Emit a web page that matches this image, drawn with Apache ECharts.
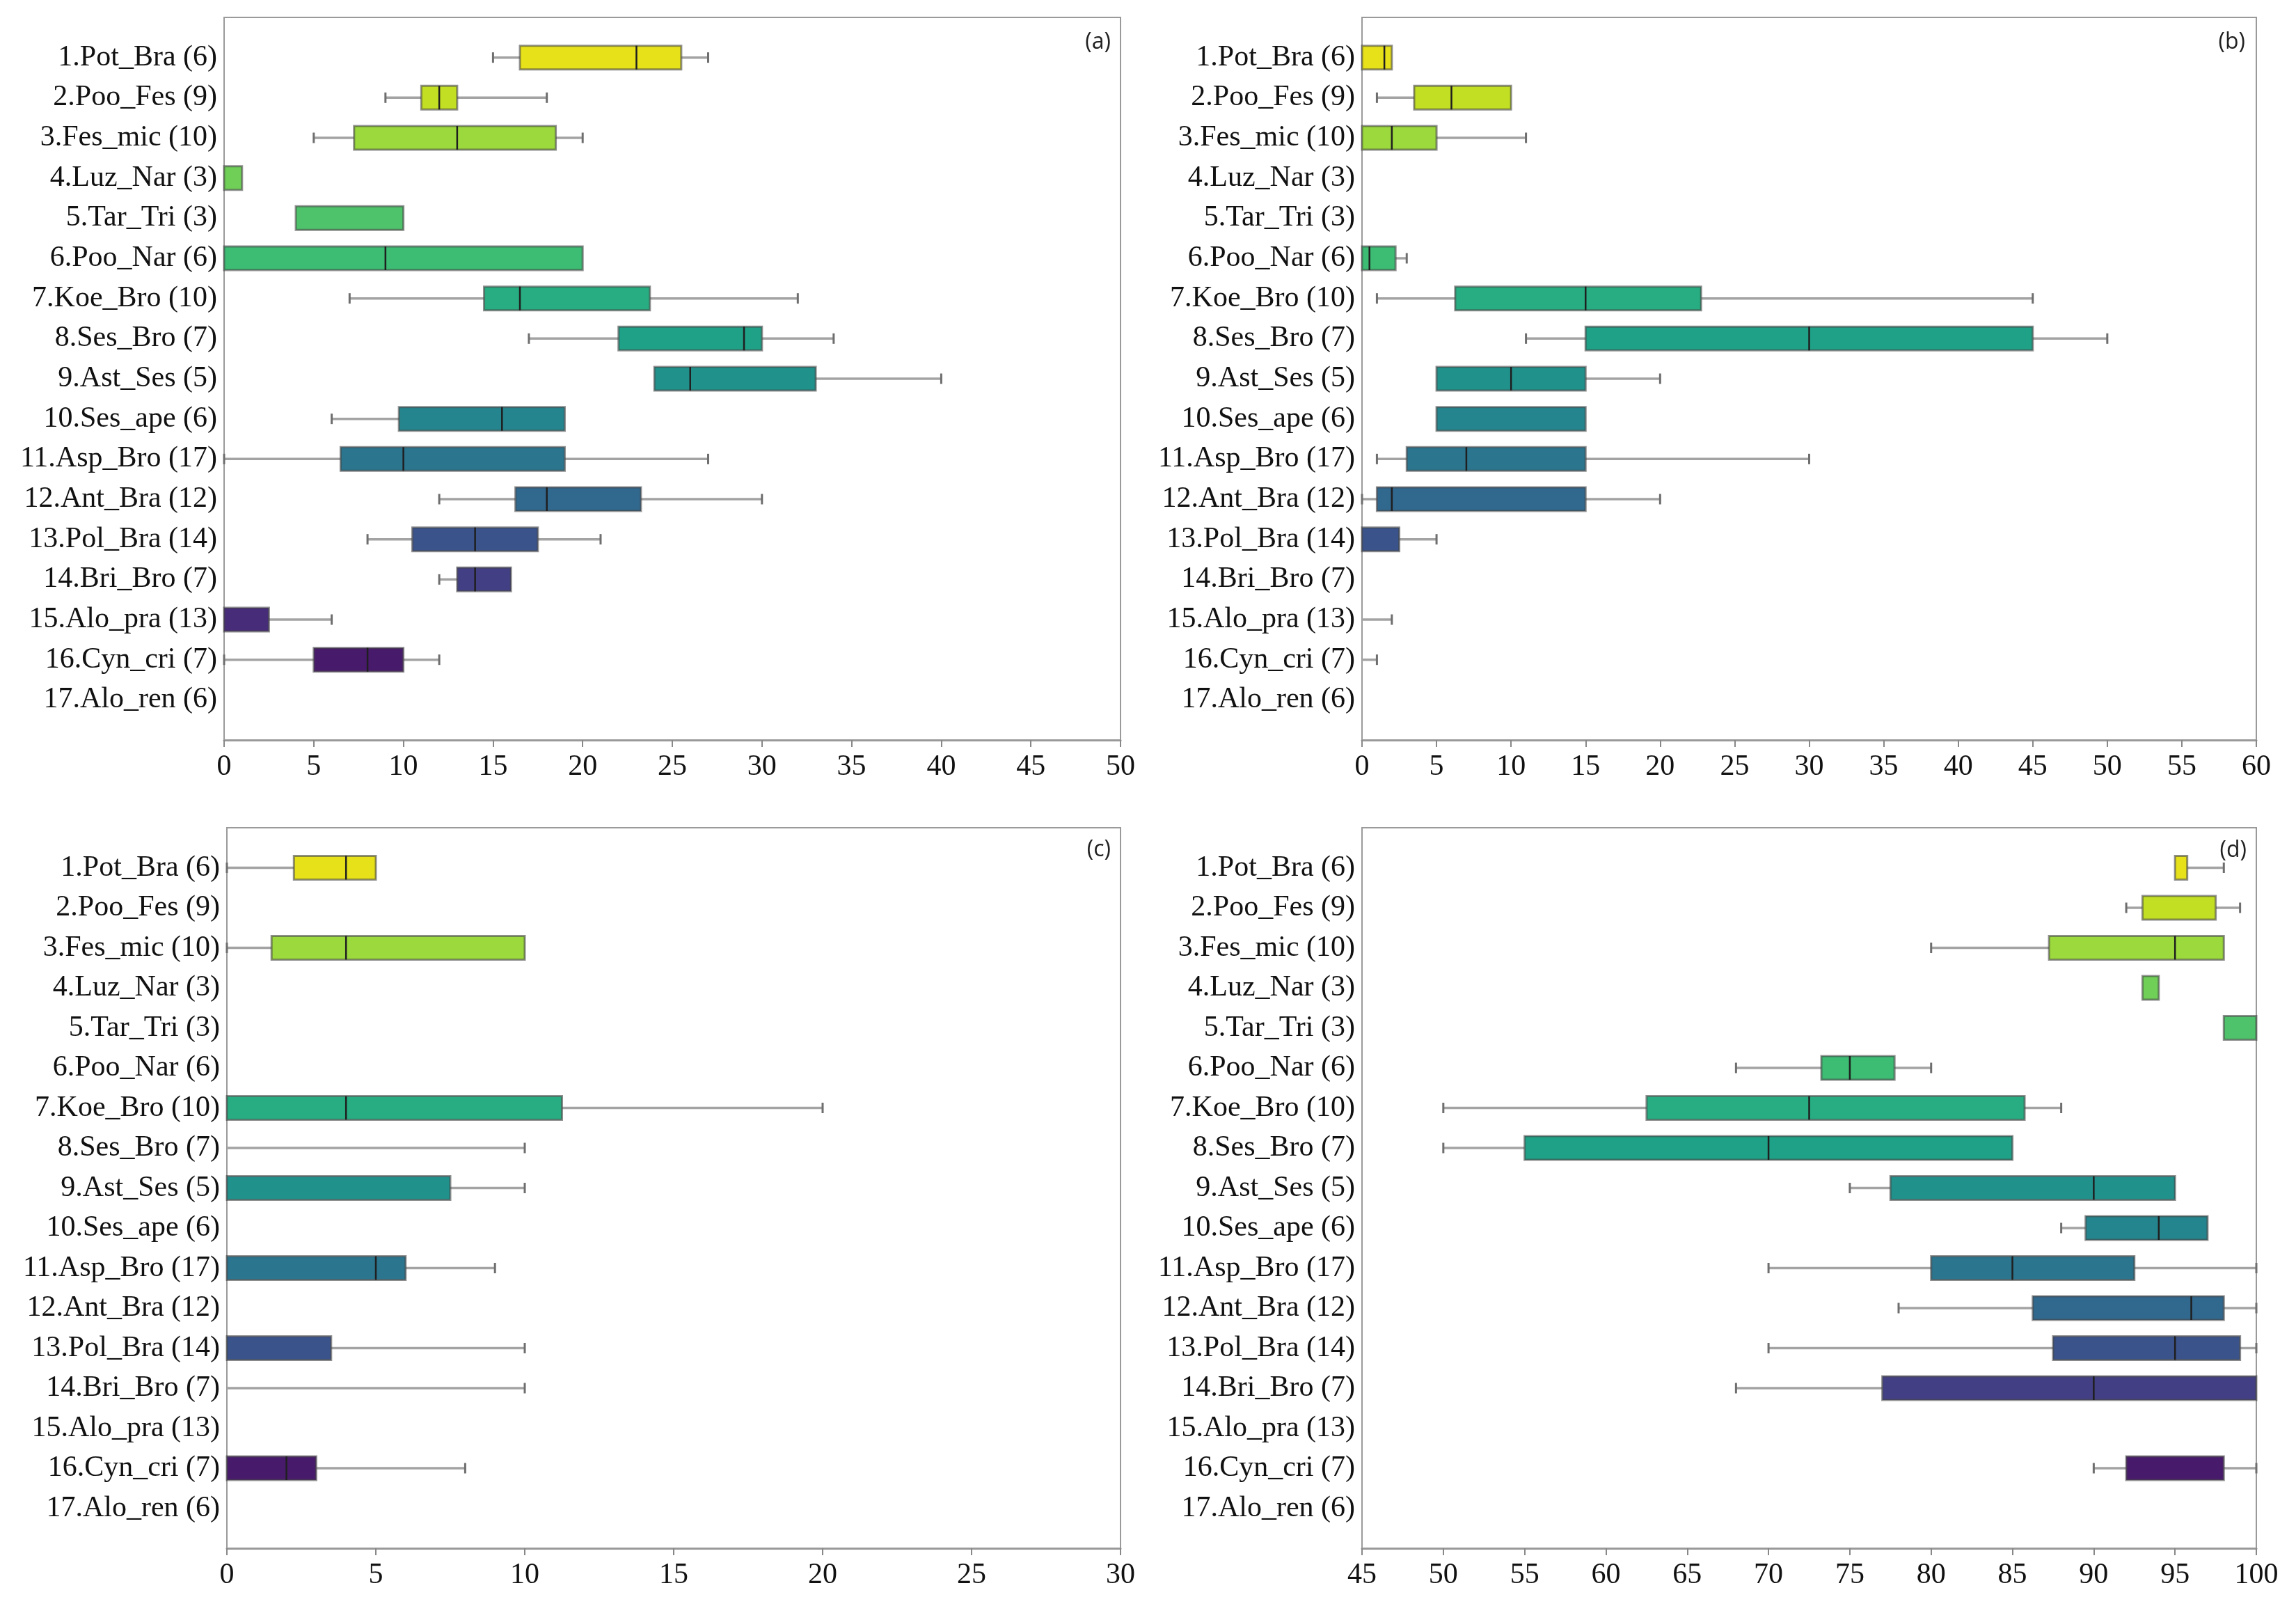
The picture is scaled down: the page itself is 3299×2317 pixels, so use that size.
<!DOCTYPE html>
<html>
<head>
<meta charset="utf-8">
<script src="https://cdn.jsdelivr.net/npm/echarts@6/dist/echarts.min.js"></script>
<style>
html,body{margin:0;padding:0;background:#fff;}
#chart{width:3299px;height:2317px;}
</style>
</head>
<body>
<div id="chart"></div>
<script>
const categories = ['1.Pot_Bra (6)','2.Poo_Fes (9)','3.Fes_mic (10)','4.Luz_Nar (3)','5.Tar_Tri (3)','6.Poo_Nar (6)','7.Koe_Bro (10)','8.Ses_Bro (7)','9.Ast_Ses (5)','10.Ses_ape (6)','11.Asp_Bro (17)','12.Ant_Bra (12)','13.Pol_Bra (14)','14.Bri_Bro (7)','15.Alo_pra (13)','16.Cyn_cri (7)','17.Alo_ren (6)'];

const colors = ['#e7e11a','#c3df23','#9bd93c','#6fcf57','#4ec36b','#3dbc74','#27ad81','#1fa187','#21918c','#25858e','#2b758e','#31688e','#3a538b','#423f85','#472c7a','#481a6c','#440154'];

// [min, q1, median, q3, max]
const statsA = [
  [15, 16.5, 23, 25.5, 27],
  [9, 11, 12, 13, 18],
  [5, 7.25, 13, 18.5, 20],
  [0, 0, 0, 1, 1],
  [4, 4, 4, 10, 10],
  [0, 0, 9, 20, 20],
  [7, 14.5, 16.5, 23.75, 32],
  [17, 22, 29, 30, 34],
  [24, 24, 26, 33, 40],
  [6, 9.75, 15.5, 19, 19],
  [0, 6.5, 10, 19, 27],
  [12, 16.25, 18, 23.25, 30],
  [8, 10.5, 14, 17.5, 21],
  [12, 13, 14, 16, 16],
  [0, 0, 0, 2.5, 6],
  [0, 5, 8, 10, 12],
  null
];
const statsB = [
  [0, 0, 1.5, 2, 2],
  [1, 3.5, 6, 10, 10],
  [0, 0, 2, 5, 11],
  null,
  null,
  [0, 0, 0.5, 2.25, 3],
  [1, 6.25, 15, 22.75, 45],
  [11, 15, 30, 45, 50],
  [5, 5, 10, 15, 20],
  [5, 5, 5, 15, 15],
  [1, 3, 7, 15, 30],
  [0, 1, 2, 15, 20],
  [0, 0, 0, 2.5, 5],
  null,
  [0, 0, 0, 0, 2],
  [0, 0, 0, 0, 1],
  null
];
const statsC = [
  [0, 2.25, 4, 5, 5],
  null,
  [0, 1.5, 4, 10, 10],
  null,
  null,
  null,
  [0, 0, 4, 11.25, 20],
  [0, 0, 0, 0, 10],
  [0, 0, 0, 7.5, 10],
  null,
  [0, 0, 5, 6, 9],
  null,
  [0, 0, 0, 3.5, 10],
  [0, 0, 0, 0, 10],
  null,
  [0, 0, 2, 3, 8],
  null
];
const statsD = [
  [95, 95, 95, 95.75, 98],
  [92, 93, 93, 97.5, 99],
  [80, 87.25, 95, 98, 98],
  [93, 93, 93, 94, 94],
  [98, 98, 98, 100, 100],
  [68, 73.25, 75, 77.75, 80],
  [50, 62.5, 72.5, 85.75, 88],
  [50, 55, 70, 85, 85],
  [75, 77.5, 90, 95, 95],
  [88, 89.5, 94, 97, 97],
  [70, 80, 85, 92.5, 100],
  [78, 86.25, 96, 98, 100],
  [70, 87.5, 95, 99, 100],
  [68, 77, 90, 100, 100],
  null,
  [90, 92, 92, 98, 100],
  null
];
const xRanges = [[0, 50], [0, 60], [0, 30], [45, 100]];
const panelLabels = ['(a)', '(b)', '(c)', '(d)'];
const allStats = [statsA, statsB, statsC, statsD];

const grids = [
  {left: 322, top: 25, width: 1288, height: 1038},
  {left: 1957, top: 25, width: 1285, height: 1038},
  {left: 326, top: 1189, width: 1284, height: 1035},
  {left: 1957, top: 1189, width: 1285, height: 1035}
];
const labelPos = [[1596, 61], [3226, 61], [1596, 1221], [3228, 1222]];

const yData = [''].concat(categories).concat(['']);
const serif = 'Liberation Serif';

function renderItem(params, api) {
  const cat = api.value(0);
  const mn = api.value(1), q1 = api.value(2), md = api.value(3), q3 = api.value(4), mx = api.value(5);
  const ci = api.value(6);
  const yC = api.coord([mn, cat])[1];
  const X = v => api.coord([v, cat])[0];
  const h = 34, cap = 15;
  const children = [];
  const wStyle = {stroke: '#a3a3a3', lineWidth: 3.5};
  const cStyle = {stroke: '#6e6e6e', lineWidth: 3};
  if (mn < q1) {
    children.push({type: 'line', shape: {x1: X(mn), y1: yC, x2: X(q1), y2: yC}, style: wStyle});
    children.push({type: 'line', shape: {x1: X(mn), y1: yC - cap/2, x2: X(mn), y2: yC + cap/2}, style: cStyle});
  }
  if (mx > q3) {
    children.push({type: 'line', shape: {x1: X(q3), y1: yC, x2: X(mx), y2: yC}, style: wStyle});
    children.push({type: 'line', shape: {x1: X(mx), y1: yC - cap/2, x2: X(mx), y2: yC + cap/2}, style: cStyle});
  }
  if (q3 > q1) {
    children.push({type: 'rect', shape: {x: X(q1), y: yC - h/2, width: X(q3) - X(q1), height: h},
      style: {fill: colors[ci], stroke: 'rgba(70,70,70,0.6)', lineWidth: 3}});
    if (md > q1 && md < q3) {
      children.push({type: 'line', shape: {x1: X(md), y1: yC - h/2, x2: X(md), y2: yC + h/2},
        style: {stroke: '#1f1f1f', lineWidth: 2.5}});
    }
  }
  return {type: 'group', children: children};
}

const xAxes = [], yAxes = [], series = [], graphics = [];
for (let p = 0; p < 4; p++) {
  xAxes.push({
    type: 'value', gridIndex: p, min: xRanges[p][0], max: xRanges[p][1], interval: 5,
    splitLine: {show: false},
    axisLine: {show: true, lineStyle: {color: '#999', width: 3}},
    axisTick: {show: true, length: 10, lineStyle: {color: '#888', width: 2}},
    axisLabel: {fontFamily: serif, fontSize: 42, color: '#111', margin: 18}
  });
  yAxes.push({
    type: 'category', gridIndex: p, data: yData, inverse: true, boundaryGap: false,
    axisLine: {show: false}, axisTick: {show: false}, splitLine: {show: false},
    axisLabel: {interval: 0, fontFamily: serif, fontSize: 42, color: '#111', margin: 10}
  });
  const data = [];
  allStats[p].forEach((s, i) => {
    if (s) data.push([i + 1, s[0], s[1], s[2], s[3], s[4], i]);
  });
  series.push({
    type: 'custom', xAxisIndex: p, yAxisIndex: p, renderItem: renderItem,
    encode: {x: [1, 2, 3, 4, 5], y: 0}, data: data, clip: false, silent: true
  });
  graphics.push({
    type: 'text', x: labelPos[p][0], y: labelPos[p][1],
    style: {text: panelLabels[p], font: "32px 'Open Sans', sans-serif", fill: '#222',
      align: 'right', verticalAlign: 'middle'}
  });
}

const chart = echarts.init(document.getElementById('chart'), null, {renderer: 'canvas'});
chart.setOption({
  backgroundColor: '#ffffff',
  animation: false,
  grid: grids.map(g => Object.assign({show: true, borderColor: '#9a9a9a', borderWidth: 2, backgroundColor: 'transparent', containLabel: false}, g)),
  xAxis: xAxes,
  yAxis: yAxes,
  series: series,
  graphic: graphics
});
</script>
</body>
</html>
